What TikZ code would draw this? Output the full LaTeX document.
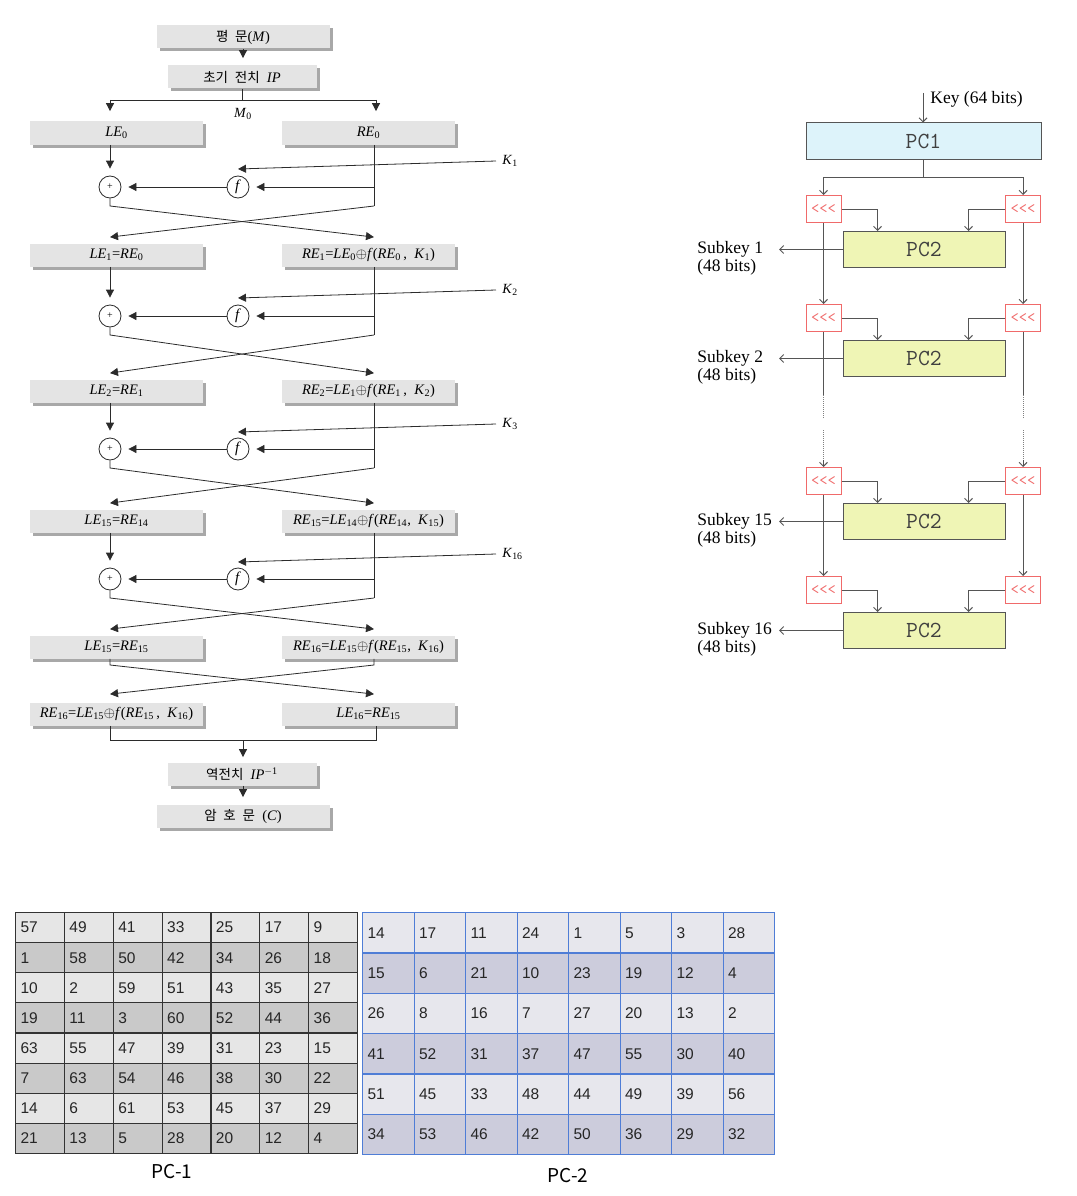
\documentclass[tikz,border=0pt]{standalone}
\usepackage{fontspec}
\setmainfont{Liberation Serif}
\newfontfamily\krfont{Noto Sans CJK KR}
\newfontfamily\tabfont{Liberation Sans}
\usetikzlibrary{arrows.meta,shadows}

\definecolor{boxgray}{HTML}{E4E4E4}
\definecolor{shadowgray}{HTML}{A8A8A8}
\definecolor{lineblk}{HTML}{2B2B2B}
\definecolor{pconefill}{HTML}{DDF3FA}
\definecolor{pctwofill}{HTML}{EFF5B5}
\definecolor{keyline}{HTML}{555555}
\definecolor{shiftred}{HTML}{F06A6A}
\definecolor{rowlight}{HTML}{E6E6E6}
\definecolor{rowdark}{HTML}{C9C9C9}
\definecolor{bluelight}{HTML}{E7E7ED}
\definecolor{bluedark}{HTML}{CCCCDC}
\definecolor{blueline}{HTML}{4F7DD6}

\newcommand\vb[2]{\textit{#1}\textsubscript{#2}}

\tikzset{
  desbox/.style={fill=boxgray, minimum width=173pt, minimum height=23pt, inner sep=0pt,
    font=\fontsize{14.5}{16}\selectfont,
    drop shadow={shadow xshift=3pt, shadow yshift=-3pt, fill=shadowgray, opacity=1}},
  xorc/.style={circle, draw=lineblk, minimum size=22pt, inner sep=0pt, font=\fontsize{10}{10}\selectfont},
  fc/.style={circle, draw=lineblk, minimum size=22pt, inner sep=0pt, font=\fontsize{15}{15}\selectfont},
  klabel/.style={anchor=west, inner sep=0pt, font=\fontsize{14}{16}\selectfont},
  flow/.style={draw=lineblk, -{Triangle[length=8pt,width=8pt]}},
  gapflow/.style={flow, shorten >=7pt},
  pcbox/.style={draw=keyline, line width=1pt, minimum height=36pt, inner sep=0pt,
    text=black!75, font=\ttfamily\fontsize{23}{25}\selectfont},
  shiftbox/.style={draw=shiftred, fill=white, line width=1pt, minimum width=35pt, minimum height=27pt,
    inner sep=0pt, text=shiftred, font=\ttfamily\fontsize{16}{16}\selectfont},
  kline/.style={draw=keyline, line width=1pt},
  karrow/.style={kline, -{Straight Barb[length=4pt,width=8pt]}},
  keylabel/.style={inner sep=0pt, font=\fontsize{17.5}{18.5}\selectfont},
  pcell/.style={draw, anchor=north west, inner xsep=5pt, inner ysep=0pt, align=left,
    text=black!85, font=\tabfont\fontsize{15.5}{17}\selectfont},
  capt/.style={font=\krfont\fontsize{19}{21}\selectfont}
}

\begin{document}
\begin{tikzpicture}[x=1pt, y=-1pt, line width=0.8pt]
  \useasboundingbox (0,0) rectangle (1076,1196);

  %%%%% DES ROUNDS %%%%%
  \node[desbox] (pt) at (243,37) {{\krfont\fontsize{13.5}{15}\selectfont 평\enspace 문}(\textit{M})};
  \node[desbox, minimum width=149pt] (ip) at (242,77) {{\krfont\fontsize{13.5}{15}\selectfont 초기\enspace 전치}\enspace\textit{IP}};

  \node[desbox] (le0) at (116.5,133) {\vb{LE}{0}};
  \node[desbox] (re0) at (368.5,133) {\vb{RE}{0}};
  \node[desbox] (le1) at (116.5,255) {\vb{LE}{1}=\vb{RE}{0}};
  \node[desbox] (re1) at (368.5,255) {\vb{RE}{1}=\vb{LE}{0}$\oplus$\textit{f}(\vb{RE}{0}\,,\ \ \vb{K}{1})};
  \node[desbox] (le2) at (116.5,391) {\vb{LE}{2}=\vb{RE}{1}};
  \node[desbox] (re2) at (368.5,391) {\vb{RE}{2}=\vb{LE}{1}$\oplus$\textit{f}(\vb{RE}{1}\,,\ \ \vb{K}{2})};
  \node[desbox] (le15) at (116.5,521) {\vb{LE}{15}=\vb{RE}{14}};
  \node[desbox] (re15) at (368.5,521) {\vb{RE}{15}=\vb{LE}{14}$\oplus$\textit{f}(\vb{RE}{14},\ \ \vb{K}{15})};
  \node[desbox] (le16) at (116.5,647) {\vb{LE}{15}=\vb{RE}{15}};
  \node[desbox] (re16) at (368.5,647) {\vb{RE}{16}=\vb{LE}{15}$\oplus$\textit{f}(\vb{RE}{15},\ \ \vb{K}{16})};
  \node[desbox] (outl) at (116.5,714) {\vb{RE}{16}=\vb{LE}{15}$\oplus$\textit{f}(\vb{RE}{15}\,,\ \ \vb{K}{16})};
  \node[desbox] (outr) at (368.5,714) {\vb{LE}{16}=\vb{RE}{15}};

  \node[desbox, minimum width=149pt] (iip) at (242,774) {{\krfont\fontsize{13.5}{15}\selectfont 역전치}\enspace\textit{IP}\textsuperscript{$-$1}};
  \node[desbox] (ct) at (243,816) {{\krfont\fontsize{13.5}{15}\selectfont 암\enspace 호\enspace 문}\enspace(\textit{C})};

  % split of M0
  \draw[gapflow] (pt.south) -- (ip.north -| pt.south);
  \coordinate (sl) at (110,100);
  \coordinate (sr) at (376,100);
  \draw[draw=lineblk] (ip.south) -- (ip.south |- sl);
  \draw[draw=lineblk] (sl) -- (sr);
  \draw[flow] (sl) -- ([yshift=10pt]le0.north -| sl);
  \draw[flow] (sr) -- ([yshift=10pt]re0.north -| sr);
  \node[font=\fontsize{14}{16}\selectfont] (m0) at (243,114) {\vb{M}{0}};

  % one round
  \foreach \a/\b/\k/\ky/\cy [count=\i] in {0/1/1/161/187, 1/2/2/290/316, 2/15/3/424/449, 15/16/16/554/579} {
    \node[xorc] (x\i) at (110,\cy) {+};
    \node[fc] (f\i) at (238,\cy) {\textit{f}};
    \node[klabel] (k\i) at (502,\ky) {\vb{K}{\k}};
    \coordinate (kt\i) at (238,\ky+8);
    \coordinate (r\i) at (374,\cy);
    \coordinate (rb\i) at (374,\cy+19);
    \coordinate (xb\i) at (110,\cy+19);
    \draw[gapflow] (le\a.south -| x\i) -- (x\i.north);
    \draw[draw=lineblk] (re\a.south -| r\i) -- (rb\i);
    \draw[gapflow] (r\i) -- (f\i.east);
    \draw[gapflow] (f\i.west) -- (x\i.east);
    \draw[flow] ([xshift=-6pt]k\i.west) -- (kt\i);
    \draw[flow] (x\i.south) -- (xb\i) -- ([yshift=6pt]re\b.north -| r\i);
    \draw[flow] (rb\i) -- ([yshift=6pt]le\b.north -| xb\i);
  }

  % last swap
  \coordinate (fl) at (110,665);
  \coordinate (fr) at (374,665);
  \draw[flow] (le16.south -| fl) -- (fl) -- ([yshift=8pt]outr.north -| fr);
  \draw[flow] (re16.south -| fr) -- (fr) -- ([yshift=8pt]outl.north -| fl);

  \coordinate (jl) at (110,740);
  \coordinate (jr) at (376,740);
  \coordinate (jm) at (243,740);
  \draw[draw=lineblk] (outl.south -| jl) -- (jl) -- (jr) -- (outr.south -| jr);
  \draw[gapflow, shorten >=5pt] (jm) -- (iip.north -| jm);
  \draw[gapflow, shorten >=7pt] (iip.south -| jm) -- (ct.north -| jm);

  %%%%% KEY SCHEDULE %%%%%
  \node[pcbox, fill=pconefill, minimum width=235pt] (pc1) at (923.5,141) {PC1};
  \node[keylabel, anchor=west] (key) at (930,99) {Key (64 bits)};
  \coordinate (kin) at (923,93);
  \draw[karrow] (kin) -- (pc1.north -| kin);
  \coordinate (sp) at (923,177);
  \draw[kline] (pc1.south -| sp) -- (sp);

  \foreach \i/\sy in {1/209, 2/318, 15/481, 16/590} {
    \node[shiftbox] (ls\i) at (823.5,\sy) {<{}<{}<};
    \node[shiftbox] (rs\i) at (1023,\sy) {<{}<{}<};
    \node[pcbox, fill=pctwofill, minimum width=162pt] (p\i) at (924,\sy+40.5) {PC2};
    \draw[karrow] (ls\i.east) -| ([xshift=35pt]p\i.north west);
    \draw[karrow] (rs\i.west) -| ([xshift=-37pt]p\i.north east);
    \coordinate (sa\i) at (779,\sy+40.5);
    \draw[karrow] (p\i.west) -- (sa\i);
    \node[keylabel, anchor=west, align=left] (sk\i) at (697,\sy+49.5) {Subkey \i\\(48 bits)};
  }

  \draw[kline] (ls1.north |- sp) -- (rs1.north |- sp);
  \draw[karrow] (ls1.north |- sp) -- (ls1);
  \draw[karrow] (rs1.north |- sp) -- (rs1);
  \draw[karrow] (ls1) -- (ls2);
  \draw[karrow] (rs1) -- (rs2);
  \draw[karrow] (ls15) -- (ls16);
  \draw[karrow] (rs15) -- (rs16);

  % skipped rounds
  \foreach \s/\x in {l/823.5, r/1023} {
    \coordinate (\s d1) at (\x,395);
    \coordinate (\s d2) at (\x,418);
    \coordinate (\s d3) at (\x,430);
    \coordinate (\s d4) at (\x,460);
    \draw[kline] (\s s2) -- (\s d1);
    \draw[kline, densely dotted, draw=gray] (\s d1) -- (\s d2);
    \draw[kline, densely dotted, draw=gray] (\s d3) -- (\s d4);
    \draw[karrow] (\s d4) -- (\s s15);
  }

  %%%%% PC-1 / PC-2 TABLES %%%%%
  \foreach \row [count=\r] in {{57,49,41,33,25,17,9},{1,58,50,42,34,26,18},{10,2,59,51,43,35,27},
      {19,11,3,60,52,44,36},{63,55,47,39,31,23,15},{7,63,54,46,38,30,22},{14,6,61,53,45,37,29},
      {21,13,5,28,20,12,4}} {
    \ifodd\r \def\cf{rowlight}\else \def\cf{rowdark}\fi
    \foreach \v [count=\c] in \row {
      \node[pcell, fill=\cf, draw=black!80, line width=1.1pt, minimum width=48.86pt, minimum height=30.1pt,
        text width=38.86pt] (pa-\r-\c) at ({15+(\c-1)*48.86},{912+(\r-1)*30.1}) {\v};
    }
  }
  \node[capt] (cap1) at (172,1172) {PC-1};

  \foreach \row [count=\r] in {{14,17,11,24,1,5,3,28},{15,6,21,10,23,19,12,4},{26,8,16,7,27,20,13,2},
      {41,52,31,37,47,55,30,40},{51,45,33,48,44,49,39,56},{34,53,46,42,50,36,29,32}} {
    \ifodd\r \def\cf{bluelight}\else \def\cf{bluedark}\fi
    \foreach \v [count=\c] in \row {
      \node[pcell, fill=\cf, draw=blueline, line width=1.2pt, minimum width=51.5pt, minimum height=40.33pt,
        text width=41.5pt] (pb-\r-\c) at ({362+(\c-1)*51.5},{912+(\r-1)*40.33}) {\v};
    }
  }
  \node[capt] (cap2) at (568,1176) {PC-2};
\end{tikzpicture}
\end{document}
